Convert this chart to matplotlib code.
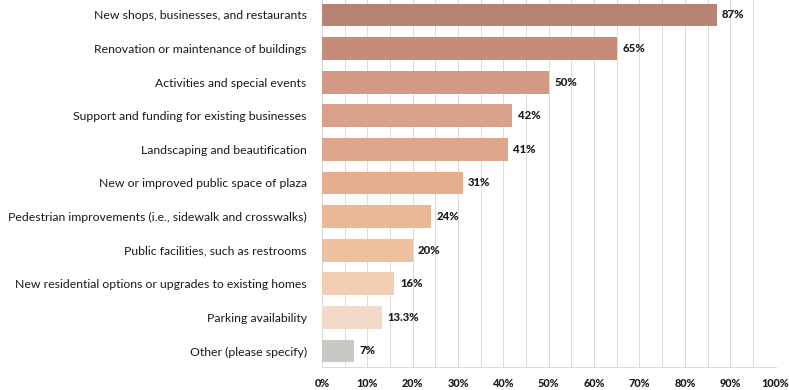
import numpy as np
import matplotlib.pyplot as plt

# survey responses, top to bottom
categories = [
    'New shops, businesses, and restaurants',
    'Renovation or maintenance of buildings',
    'Activities and special events',
    'Support and funding for existing businesses',
    'Landscaping and beautification',
    'New or improved public space of plaza',
    'Pedestrian improvements (i.e., sidewalk and crosswalks)',
    'Public facilities, such as restrooms',
    'New residential options or upgrades to existing homes',
    'Parking availability',
    'Other (please specify)',
]
values = [87, 65, 50, 42, 41, 31, 24, 20, 16, 13.3, 7]
value_labels = ['87%', '65%', '50%', '42%', '41%', '31%', '24%', '20%', '16%', '13.3%', '7%']
bar_colors = ['#b98373', '#c78c79', '#d29a83', '#d9a189', '#dea68b', '#e5ae8f',
              '#eab896', '#edc0a0', '#f0cdb3', '#f2dacb', '#c9c8c4']
xticks = list(range(0, 101, 10))
xtick_labels = ['%d%%' % t for t in xticks]

plt.rcParams['font.family'] = ['Lato', 'DejaVu Sans']

fig = plt.figure(figsize=(7.89, 3.9), dpi=100)
ax = fig.add_axes([0.408, 0.059, 0.575, 0.941])

y = np.arange(len(categories))
ax.barh(y, values, height=0.68, color=bar_colors, zorder=3)

for yi, v, lab in zip(y, values, value_labels):
    ax.text(v + 1.2, yi, lab, va='center', ha='left', fontsize=8.2,
            fontweight='black', color='#1a1a1a', zorder=4)

ax.set_xlim(0, 100)
ax.set_ylim(len(categories) - 0.524, -0.446)

ax.set_xticks(xticks)
ax.set_xticklabels(xtick_labels, fontsize=7.8, fontweight='black', color='#1a1a1a')
ax.set_xticks(np.arange(5, 100, 10), minor=True)
ax.set_yticks(y)
ax.set_yticklabels(categories, fontsize=8.8, color='#1a1a1a')

ax.grid(axis='x', which='both', color='#dadada', linewidth=0.7, zorder=0)
ax.tick_params(axis='both', which='both', length=0)
ax.tick_params(axis='x', pad=8)
ax.tick_params(axis='y', pad=11)

for side in ['top', 'right', 'left']:
    ax.spines[side].set_visible(False)
ax.spines['bottom'].set_color('#dadada')
ax.spines['bottom'].set_linewidth(0.7)

fig.savefig('out.png', dpi=100)
